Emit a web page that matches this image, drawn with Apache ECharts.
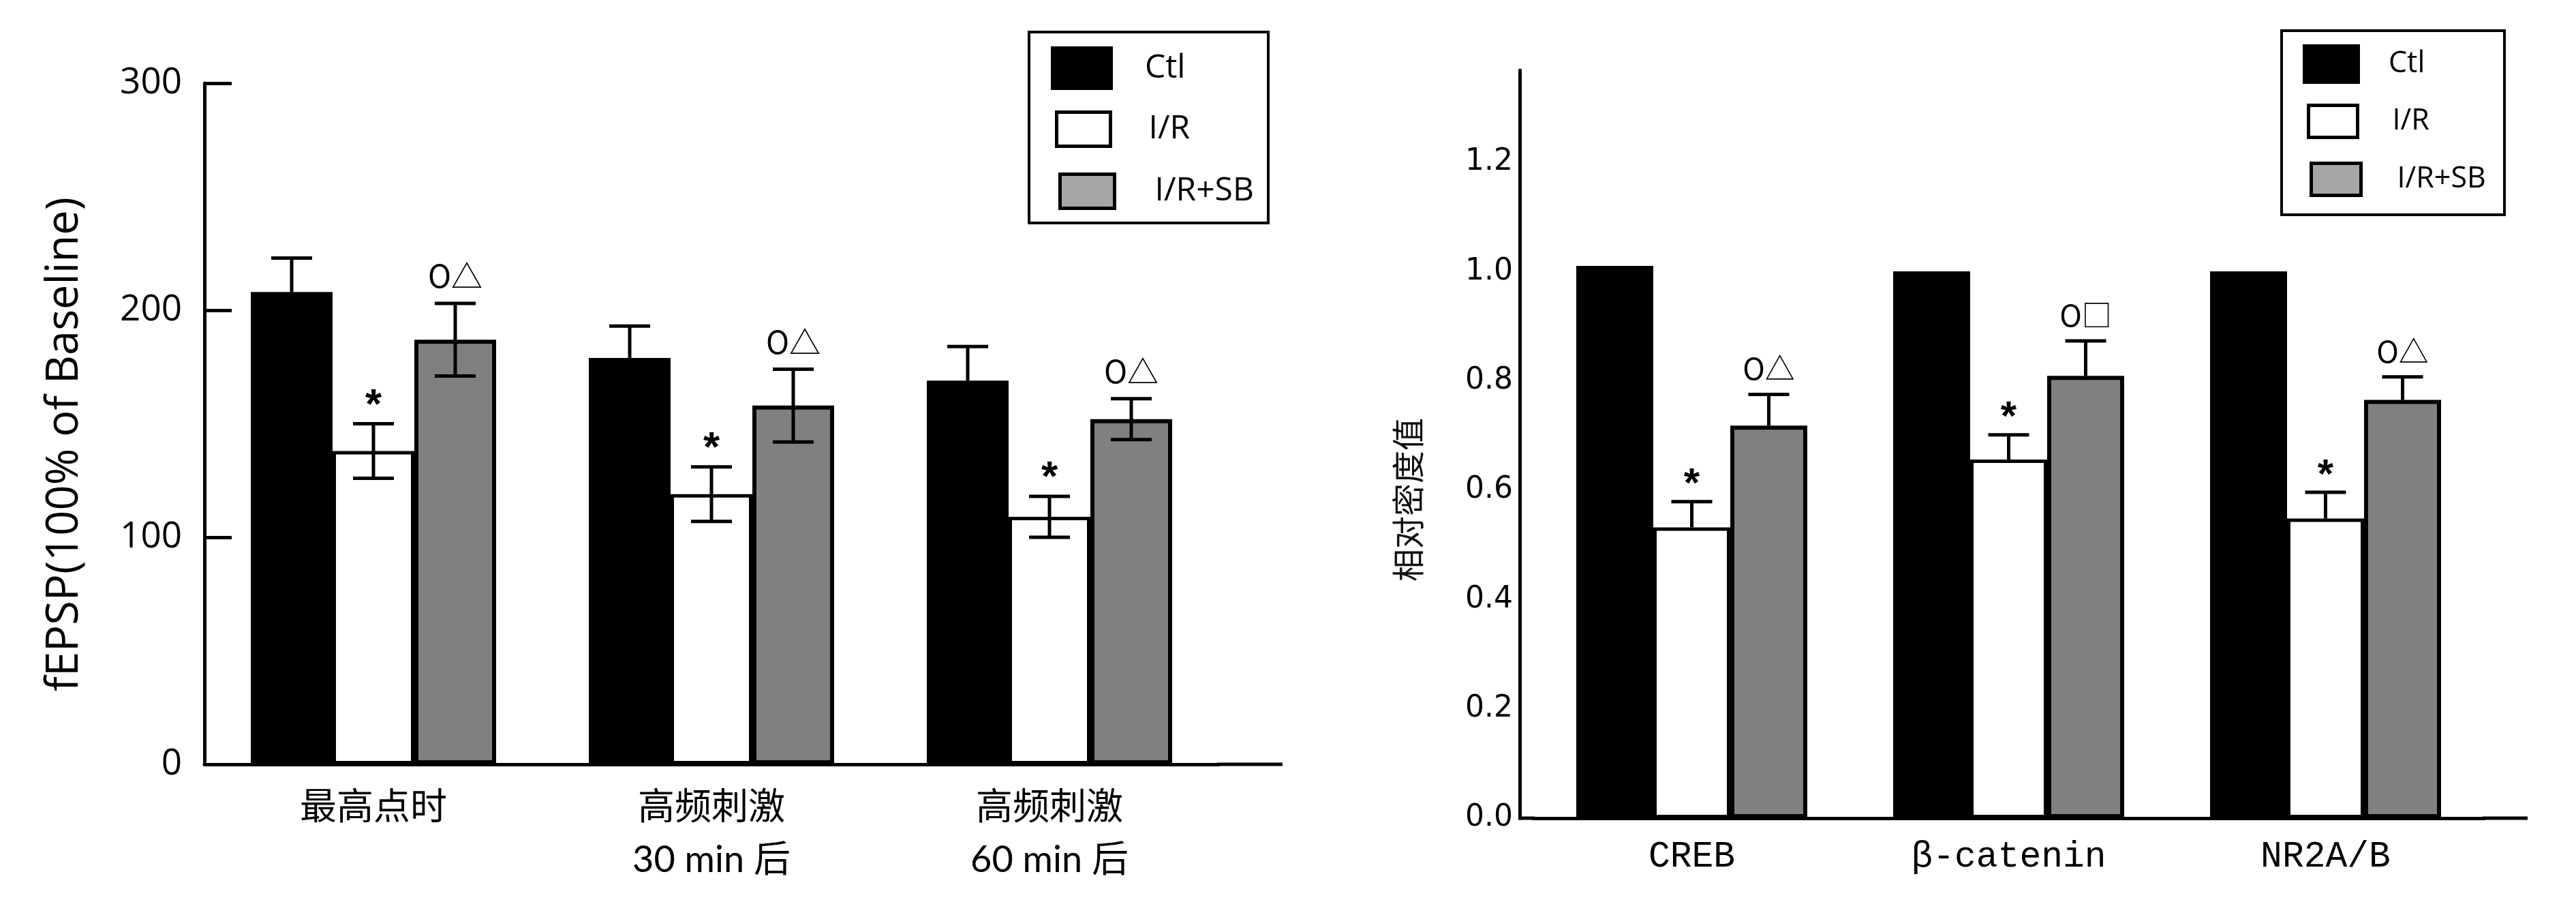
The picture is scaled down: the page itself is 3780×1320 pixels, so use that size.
<!DOCTYPE html>
<html>
<head>
<meta charset="utf-8">
<script src="https://cdn.jsdelivr.net/npm/echarts@6/dist/echarts.min.js"></script>
<style>
html,body{margin:0;padding:0;background:#fff;}
#chart{width:3780px;height:1320px;}
</style>
</head>
<body>
<div id="chart"></div>
<script>
// ---------- data ----------
const seriesNames = ['Ctl', 'I/R', 'I/R+SB'];

// left panel: fEPSP (100% of Baseline)
const categoriesL = ['最高点时', '高频刺激\n30 min 后', '高频刺激\n60 min 后'];
const yTicksL = [0, 100, 200, 300];
const ctlL = [208, 179, 169];
const ctlErrL = [15, 14, 15];
const irL = [138, 119, 109];
const irErrL = [12, 12, 9];
const sbL = [187, 158, 152];
const sbErrL = [16, 16, 9];
const irMarkL = ['*', '*', '*'];
const sbMarkL = ['O△', 'O△', 'O△'];

// right panel: relative density
const categoriesR = ['CREB', 'β-catenin', 'NR2A/B'];
const yTicksR = [0.0, 0.2, 0.4, 0.6, 0.8, 1.0, 1.2];
const ctlR = [1.01, 1.0, 1.0];
const irR = [0.532, 0.656, 0.548];
const irErrR = [0.047, 0.045, 0.048];
const sbR = [0.718, 0.809, 0.765];
const sbErrR = [0.057, 0.064, 0.042];
const irMarkR = ['*', '*', '*'];
const sbMarkR = ['O△', 'O□', 'O△'];
const yTitleR = '相对密度值';

// ---------- helpers ----------
const BAR_W_L = 120, BAR_W_R = 113;
const CAP_W = 60;

function errSeries(axisIdx, vals, errs, offsetIdx, both, marks, barW, markGap, markSize) {
  return {
    type: 'custom',
    xAxisIndex: axisIdx, yAxisIndex: axisIdx,
    z: 10, silent: true,
    data: vals.map((v, i) => [i, v, errs[i]]),
    renderItem: function (params, api) {
      const i = api.value(0), v = api.value(1), e = api.value(2);
      const c = api.coord([i, v]);
      const t = api.coord([i, v + e]);
      const b = api.coord([i, both ? v - e : v]);
      const x = c[0] + (offsetIdx - 1) * barW;
      const ls = { stroke: '#000', lineWidth: 5 };
      const children = [
        { type: 'line', shape: { x1: x, y1: t[1], x2: x, y2: b[1] }, style: ls },
        { type: 'line', shape: { x1: x - CAP_W / 2, y1: t[1], x2: x + CAP_W / 2, y2: t[1] }, style: ls }
      ];
      if (both) {
        children.push({ type: 'line', shape: { x1: x - CAP_W / 2, y1: b[1], x2: x + CAP_W / 2, y2: b[1] }, style: ls });
      }
      if (marks) {
        const m = marks[params.dataIndex];
        const isStar = m === '*';
        children.push({
          type: 'text', x: x, y: t[1] - markGap + (isStar ? 14 : 0),
          style: {
            text: m, fill: '#000',
            fontSize: isStar ? markSize + 16 : markSize,
            fontWeight: isStar ? 'bold' : 'normal',
            fontFamily: isStar ? 'Liberation Sans' : '"Noto Sans CJK SC", "DejaVu Sans"',
            align: 'center', verticalAlign: 'middle'
          }
        });
      }
      return { type: 'group', children: children };
    }
  };
}

function legendItem(left, top, w, h, name, itemStyle, pad, fs) {
  return {
    left: left, top: top, padding: 0, itemWidth: w, itemHeight: h,
    selectedMode: false, orient: 'vertical',
    data: [{ name: name, icon: 'rect', itemStyle: itemStyle }],
    textStyle: { fontSize: fs, lineHeight: 36, color: '#000', fontFamily: '"Open Sans", "Liberation Sans"', padding: [0, 0, 0, pad] }
  };
}

const ctlStyle = { color: '#000', borderWidth: 0 };
const irStyle = { color: '#fff', borderColor: '#000', borderWidth: 5 };
const sbStyle = { color: '#808080', borderColor: '#000', borderWidth: 6 };
const sbLegendStyle = { color: '#a6a6a6', borderColor: '#000', borderWidth: 5 };
const irLegendStyle = { color: '#fff', borderColor: '#000', borderWidth: 5 };

const chart = echarts.init(document.getElementById('chart'), null, { renderer: 'canvas' });

const option = {
  animation: false,
  backgroundColor: '#fff',
  grid: [
    { left: 300, width: 1488, top: 122, bottom: 199, containLabel: false },
    { left: 2250, width: 1395, top: 103, bottom: 120, containLabel: false }
  ],
  xAxis: [
    {
      type: 'category', gridIndex: 0, data: categoriesL,
      axisLine: { show: true, lineStyle: { color: '#000', width: 5 } },
      axisTick: { show: false },
      axisLabel: { interval: 0, color: '#000', fontSize: 54, lineHeight: 77, margin: 25,
        fontFamily: 'Lato, "Noto Sans CJK SC"' }
    },
    {
      type: 'category', gridIndex: 1, data: categoriesR,
      axisLine: { show: true, lineStyle: { color: '#000', width: 5 } },
      axisTick: { show: false },
      axisLabel: { interval: 0, color: '#000', fontSize: 53, margin: 30,
        fontFamily: '"Liberation Mono", "DejaVu Sans Mono"' }
    }
  ],
  yAxis: [
    {
      type: 'value', gridIndex: 0, min: yTicksL[0], max: yTicksL[yTicksL.length - 1], interval: 100,
      name: 'fEPSP(100% of Baseline)', nameLocation: 'middle', nameGap: 172,
      nameTextStyle: { fontSize: 65, color: '#000', fontFamily: '"Open Sans"', padding: [0, 60, 0, 0] },
      axisLine: { show: true, lineStyle: { color: '#000', width: 5 } },
      axisTick: { show: true, inside: true, length: 40, lineStyle: { color: '#000', width: 5 } },
      axisLabel: { color: '#000', fontSize: 53, margin: 33, fontFamily: '"Open Sans"' },
      splitLine: { show: false }
    },
    {
      type: 'value', gridIndex: 1, min: yTicksR[0], max: 1.368, interval: 0.2, offset: 20,
      axisLine: { show: true, lineStyle: { color: '#000', width: 5 } },
      axisTick: { show: false },
      axisLabel: { color: '#000', fontSize: 44, margin: 10, fontFamily: '"DejaVu Sans"',
        showMaxLabel: false, formatter: v => v.toFixed(1) },
      splitLine: { show: false }
    }
  ],
  legend: [
    legendItem(1542, 68, 91, 64, 'Ctl', ctlStyle, 42, 48),
    legendItem(1548, 162, 79, 50, 'I/R', irLegendStyle, 51, 48),
    legendItem(1553, 253, 80, 50, 'I/R+SB', sbLegendStyle, 54, 48),
    legendItem(3379, 65, 84, 58, 'Ctl', ctlStyle, 37, 43),
    legendItem(3385, 152, 72, 47, 'I/R', irLegendStyle, 46, 43),
    legendItem(3389, 237, 73, 47, 'I/R+SB', sbLegendStyle, 48, 43)
  ],
  graphic: [
    { type: 'rect', shape: { x: 1510, y: 47, width: 351, height: 280 }, style: { fill: 'none', stroke: '#000', lineWidth: 4 }, z: 1 },
    { type: 'rect', shape: { x: 3348, y: 45, width: 327, height: 270 }, style: { fill: 'none', stroke: '#000', lineWidth: 4 }, z: 1 },
    { type: 'line', shape: { x1: 1786, y1: 1121, x2: 1882, y2: 1121 }, style: { stroke: '#000', lineWidth: 5 } },
    { type: 'line', shape: { x1: 2228, y1: 1200, x2: 2252, y2: 1200 }, style: { stroke: '#000', lineWidth: 5 } },
    { type: 'line', shape: { x1: 3643, y1: 1200, x2: 3709, y2: 1200 }, style: { stroke: '#000', lineWidth: 5 } },
    { type: 'text', x: 2066, y: 733, rotation: Math.PI / 2,
      style: { text: yTitleR, fontSize: 48, fill: '#111', fontFamily: '"Noto Sans CJK SC"', align: 'center', verticalAlign: 'middle' } }
  ],
  series: [
    { name: 'Ctl', type: 'bar', xAxisIndex: 0, yAxisIndex: 0, data: ctlL, barWidth: BAR_W_L, barGap: '0%', itemStyle: ctlStyle },
    { name: 'I/R', type: 'bar', xAxisIndex: 0, yAxisIndex: 0, data: irL, barWidth: BAR_W_L, barGap: '0%', itemStyle: irStyle },
    { name: 'I/R+SB', type: 'bar', xAxisIndex: 0, yAxisIndex: 0, data: sbL, barWidth: BAR_W_L, barGap: '0%', itemStyle: sbStyle },
    errSeries(0, ctlL, ctlErrL, 0, false, null, BAR_W_L, 40, 46),
    errSeries(0, irL, irErrL, 1, true, irMarkL, BAR_W_L, 40, 46),
    errSeries(0, sbL, sbErrL, 2, true, sbMarkL, BAR_W_L, 40, 46),

    { name: 'Ctl', type: 'bar', xAxisIndex: 1, yAxisIndex: 1, data: ctlR, barWidth: BAR_W_R, barGap: '0%', itemStyle: ctlStyle },
    { name: 'I/R', type: 'bar', xAxisIndex: 1, yAxisIndex: 1, data: irR, barWidth: BAR_W_R, barGap: '0%', itemStyle: irStyle },
    { name: 'I/R+SB', type: 'bar', xAxisIndex: 1, yAxisIndex: 1, data: sbR, barWidth: BAR_W_R, barGap: '0%', itemStyle: sbStyle },
    errSeries(1, irR, irErrR, 1, false, irMarkR, BAR_W_R, 38, 44),
    errSeries(1, sbR, sbErrR, 2, false, sbMarkR, BAR_W_R, 38, 44)
  ]
};
chart.setOption(option);
</script>
</body>
</html>
